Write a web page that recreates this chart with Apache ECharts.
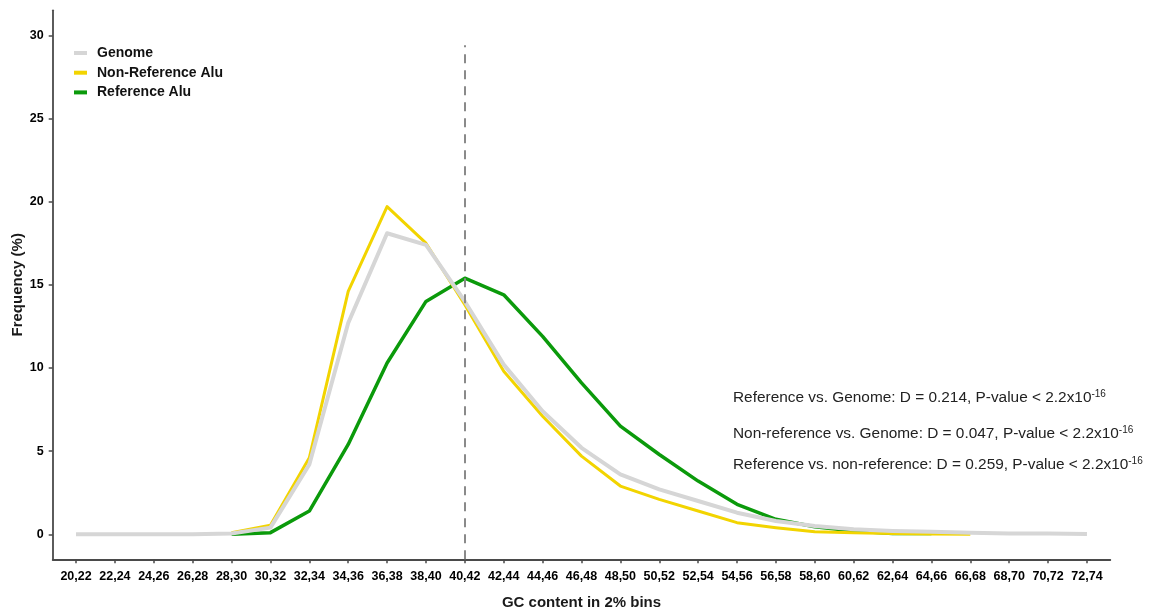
<!DOCTYPE html>
<html>
<head>
<meta charset="utf-8">
<script src="https://cdn.jsdelivr.net/npm/echarts@6/dist/echarts.min.js"></script>
<style>
  html, body { margin: 0; padding: 0; background: #ffffff; }
  #chart { width: 1157px; height: 610px; }
</style>
</head>
<body>
<div id="chart"></div>
<script>
// GC-content bins (2% wide)
const categories = [
  '20,22', '22,24', '24,26', '26,28', '28,30', '30,32', '32,34', '34,36', '36,38',
  '38,40', '40,42', '42,44', '44,46', '46,48', '48,50', '50,52', '52,54', '54,56',
  '56,58', '58,60', '60,62', '62,64', '64,66', '66,68', '68,70', '70,72', '72,74'
];

// Frequency (%) per bin; null where a series has no value
const genome = [
  0, 0, 0, 0, 0.05, 0.4, 4.2, 12.7, 18.1,
  17.4, 14.0, 10.2, 7.4, 5.2, 3.6, 2.7, 2.0, 1.3,
  0.8, 0.5, 0.3, 0.2, 0.15, 0.1, 0.05, 0.05, 0.02
];
const nonReferenceAlu = [
  null, null, null, null, 0.1, 0.55, 4.6, 14.6, 19.7,
  17.5, 13.8, 9.8, 7.1, 4.7, 2.9, 2.1, 1.4, 0.7,
  0.4, 0.15, 0.1, 0.05, 0.02, 0.0, null, null, null
];
const referenceAlu = [
  null, null, null, null, 0.0, 0.1, 1.4, 5.4, 10.3,
  14.0, 15.4, 14.4, 11.9, 9.1, 6.5, 4.8, 3.2, 1.8,
  0.9, 0.45, 0.2, 0.05, 0.05, null, null, null, null
];

const yTicks = [0, 5, 10, 15, 20, 25, 30];

// Vertical reference line
const vlineCategory = '40,42';
const vlineTop = 29.4;

// Kolmogorov-Smirnov results
const statLines = [
  { text: 'Reference vs. Genome: D = 0.214, P-value < 2.2x10', exp: '-16' },
  { text: 'Non-reference vs. Genome: D = 0.047, P-value < 2.2x10', exp: '-16' },
  { text: 'Reference vs. non-reference: D = 0.259, P-value < 2.2x10', exp: '-16' }
];

const X_MIN = -0.6, X_MAX = categories.length - 1 + 0.6;
const Y_MIN = -1.5, Y_MAX = 31.5;

const toPairs = arr => arr.map((v, i) => (v === null ? null : [i, v])).filter(p => p !== null);
const catIndex = categories.map((_, i) => i);

const mainFont = "'Liberation Sans', Arial, sans-serif";
const axisColor = '#4a4a4a';

const chart = echarts.init(document.getElementById('chart'), null, { renderer: 'canvas' });

chart.setOption({
  animation: false,
  backgroundColor: '#ffffff',
  grid: {
    left: 52.7, right: 46.7, top: 10.35, bottom: 50.75,
    containLabel: false, outerBoundsMode: 'none'
  },
  legend: {
    orient: 'vertical',
    left: 74,
    top: 46,
    padding: 0,
    icon: 'rect',
    itemWidth: 13,
    itemHeight: 4,
    itemGap: 5.7,
    data: ['Genome', 'Non-Reference Alu', 'Reference Alu'],
    textStyle: {
      fontFamily: mainFont, fontWeight: 'bold', fontSize: 14, color: '#111',
      lineHeight: 14, padding: [0, 0, 0, 5]
    }
  },
  xAxis: {
    type: 'value',
    min: X_MIN,
    max: X_MAX,
    name: 'GC content in 2% bins',
    nameLocation: 'middle',
    nameGap: 36,
    nameMoveOverlap: false,
    nameTextStyle: { fontFamily: mainFont, fontWeight: 'bold', fontSize: 15, color: '#1a1a1a' },
    splitLine: { show: false },
    axisLine: { show: true, onZero: false, lineStyle: { color: axisColor, width: 1.8 } },
    axisTick: { show: true, length: 4, customValues: catIndex, lineStyle: { color: axisColor, width: 1.5 } },
    axisLabel: {
      show: true, customValues: catIndex, margin: 10.5,
      showMinLabel: true, showMaxLabel: true, hideOverlap: false,
      formatter: v => categories[Math.round(v)],
      fontFamily: mainFont, fontWeight: 'bold', fontSize: 12.5, color: '#000'
    }
  },
  yAxis: {
    type: 'value',
    min: Y_MIN,
    max: Y_MAX,
    name: 'Frequency (%)',
    nameLocation: 'middle',
    nameRotate: 90,
    nameGap: 27,
    nameMoveOverlap: false,
    nameTextStyle: { fontFamily: mainFont, fontWeight: 'bold', fontSize: 15, color: '#1a1a1a' },
    splitLine: { show: false },
    axisLine: { show: true, onZero: false, lineStyle: { color: axisColor, width: 1.8 } },
    axisTick: { show: true, length: 4, customValues: yTicks, lineStyle: { color: axisColor, width: 1.5 } },
    axisLabel: {
      show: true, customValues: yTicks, margin: 9,
      showMinLabel: true, showMaxLabel: true,
      fontFamily: mainFont, fontWeight: 'bold', fontSize: 12.5, color: '#000'
    }
  },
  series: [
    {
      name: 'Reference Alu',
      type: 'line',
      data: toPairs(referenceAlu),
      color: '#0b9a0b',
      symbol: 'none',
      lineStyle: { width: 3.5, cap: 'butt', join: 'round' },
      z: 2
    },
    {
      name: 'Non-Reference Alu',
      type: 'line',
      data: toPairs(nonReferenceAlu),
      color: '#f2d400',
      symbol: 'none',
      lineStyle: { width: 3, cap: 'butt', join: 'round' },
      z: 3
    },
    {
      name: 'Genome',
      type: 'line',
      data: toPairs(genome),
      color: '#d6d6d6',
      symbol: 'none',
      lineStyle: { width: 4, cap: 'butt', join: 'round' },
      z: 4,
      markLine: {
        silent: true,
        symbol: ['none', 'none'],
        label: { show: false },
        lineStyle: { color: '#8a8a8a', width: 2, type: [9, 7] },
        data: [[
          { coord: [categories.indexOf(vlineCategory), Y_MIN] },
          { coord: [categories.indexOf(vlineCategory), vlineTop] }
        ]]
      }
    }
  ],
  graphic: statLines.map((s, i) => ({
    type: 'text',
    x: 733,
    y: [398, 434, 465][i],
    silent: true,
    style: {
      text: '{t|' + s.text + '}{s|' + s.exp + '}',
      verticalAlign: 'middle',
      align: 'left',
      rich: {
        t: { fontFamily: mainFont, fontSize: 15.4, fill: '#222', lineHeight: 18 },
        s: { fontFamily: mainFont, fontSize: 10, fill: '#222', verticalAlign: 'top', lineHeight: 18 }
      }
    }
  }))
});
</script>
</body>
</html>
